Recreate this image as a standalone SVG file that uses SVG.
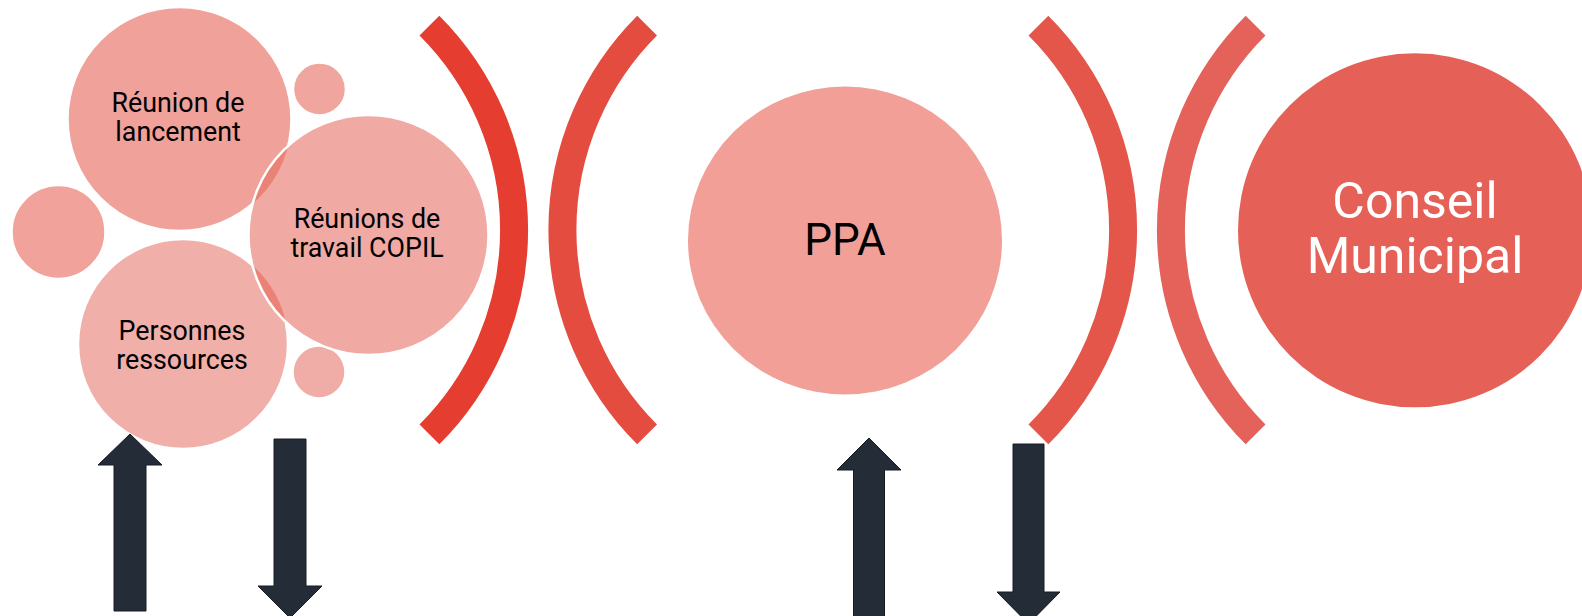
<svg xmlns="http://www.w3.org/2000/svg" width="1582" height="616" viewBox="0 0 1582 616">
  <style>
    .lbl { font-family: Roboto, "Liberation Sans", sans-serif; font-size: 26.8px; fill: #000; text-anchor: middle; }
    .big { font-family: Roboto, "Liberation Sans", sans-serif; text-anchor: middle; }
    .bubble { stroke: #fff; stroke-width: 2.5; }
    .arc { fill: none; stroke-width: 28; }
    .arrow { fill: #232C37; stroke: #161C24; stroke-width: 1; }
  </style>
  <defs>
    <clipPath id="copilClip">
      <circle cx="368.5" cy="235" r="120"/>
    </clipPath>
  </defs>

  <rect width="1582" height="616" fill="#fff"/>

  <!-- bubble cluster -->
  <g id="node-lancement">
    <circle class="bubble" cx="179.5" cy="119" r="112" fill="#F0A199"/>
  </g>
  <g id="node-personnes">
    <circle class="bubble" cx="183" cy="344" r="105" fill="#F0AFA9"/>
  </g>
  <g id="bubble-left">
    <circle class="bubble" cx="58.5" cy="232" r="47" fill="#F0A29B"/>
  </g>
  <g id="bubble-top">
    <circle class="bubble" cx="319.5" cy="89" r="26.5" fill="#F0A69F"/>
  </g>
  <g id="bubble-bottom">
    <circle class="bubble" cx="319" cy="372" r="26.5" fill="#F0ACA6"/>
  </g>
  <g id="node-copil">
    <circle cx="368.5" cy="235" r="120" fill="#F0A9A3"/>
    <g clip-path="url(#copilClip)" fill="#EA8275">
      <circle cx="179.5" cy="119" r="112"/>
      <circle cx="183" cy="344" r="105"/>
    </g>
    <circle cx="368.5" cy="235" r="120" fill="none" stroke="#fff" stroke-width="2.5"/>
  </g>

  <g id="labels-cluster">
    <text class="lbl" x="178" y="112">Réunion de</text>
    <text class="lbl" x="178" y="141">lancement</text>
    <text class="lbl" x="367" y="228">Réunions de</text>
    <text class="lbl" x="367" y="257">travail COPIL</text>
    <text class="lbl" x="182" y="340">Personnes</text>
    <text class="lbl" x="182" y="369">ressources</text>
  </g>

  <!-- bracket arcs -->
  <g id="brackets">
    <path class="arc" stroke="#E53D30" d="M429.4 25.6 A289 289 0 0 1 429.4 434.4"/>
    <path class="arc" stroke="#E54C40" d="M647.1 25.6 A289 289 0 0 0 647.1 434.4"/>
    <path class="arc" stroke="#E4564A" d="M1038.4 25.6 A289 289 0 0 1 1038.4 434.4"/>
    <path class="arc" stroke="#E5625A" d="M1255.6 25.6 A289 289 0 0 0 1255.6 434.4"/>
  </g>

  <g id="node-ppa">
    <ellipse cx="845" cy="240.5" rx="157" ry="154" fill="#F19F97"/>
    <text class="big" x="845" y="255" font-size="44" fill="#000">PPA</text>
  </g>

  <g id="node-conseil">
    <circle cx="1415" cy="230.3" r="177" fill="#E56157"/>
    <text class="big" x="1415" y="218" font-size="50" fill="#fff">Conseil</text>
    <text class="big" x="1415" y="273" font-size="50" fill="#fff">Municipal</text>
  </g>

  <!-- up / down arrows -->
  <g id="connectors">
    <polygon class="arrow" points="130,434 162,465 146,465 146,611 114,611 114,465 98,465"/>
    <polygon class="arrow" points="274,439 306,439 306,586 322,586 290,618 258,586 274,586"/>
    <polygon class="arrow" points="869,438 901,470 884.5,470 884.5,622 853.5,622 853.5,470 837,470"/>
    <polygon class="arrow" points="1013,444 1044,444 1044,592 1060,592 1028.5,624 997,592 1013,592"/>
  </g>
</svg>
